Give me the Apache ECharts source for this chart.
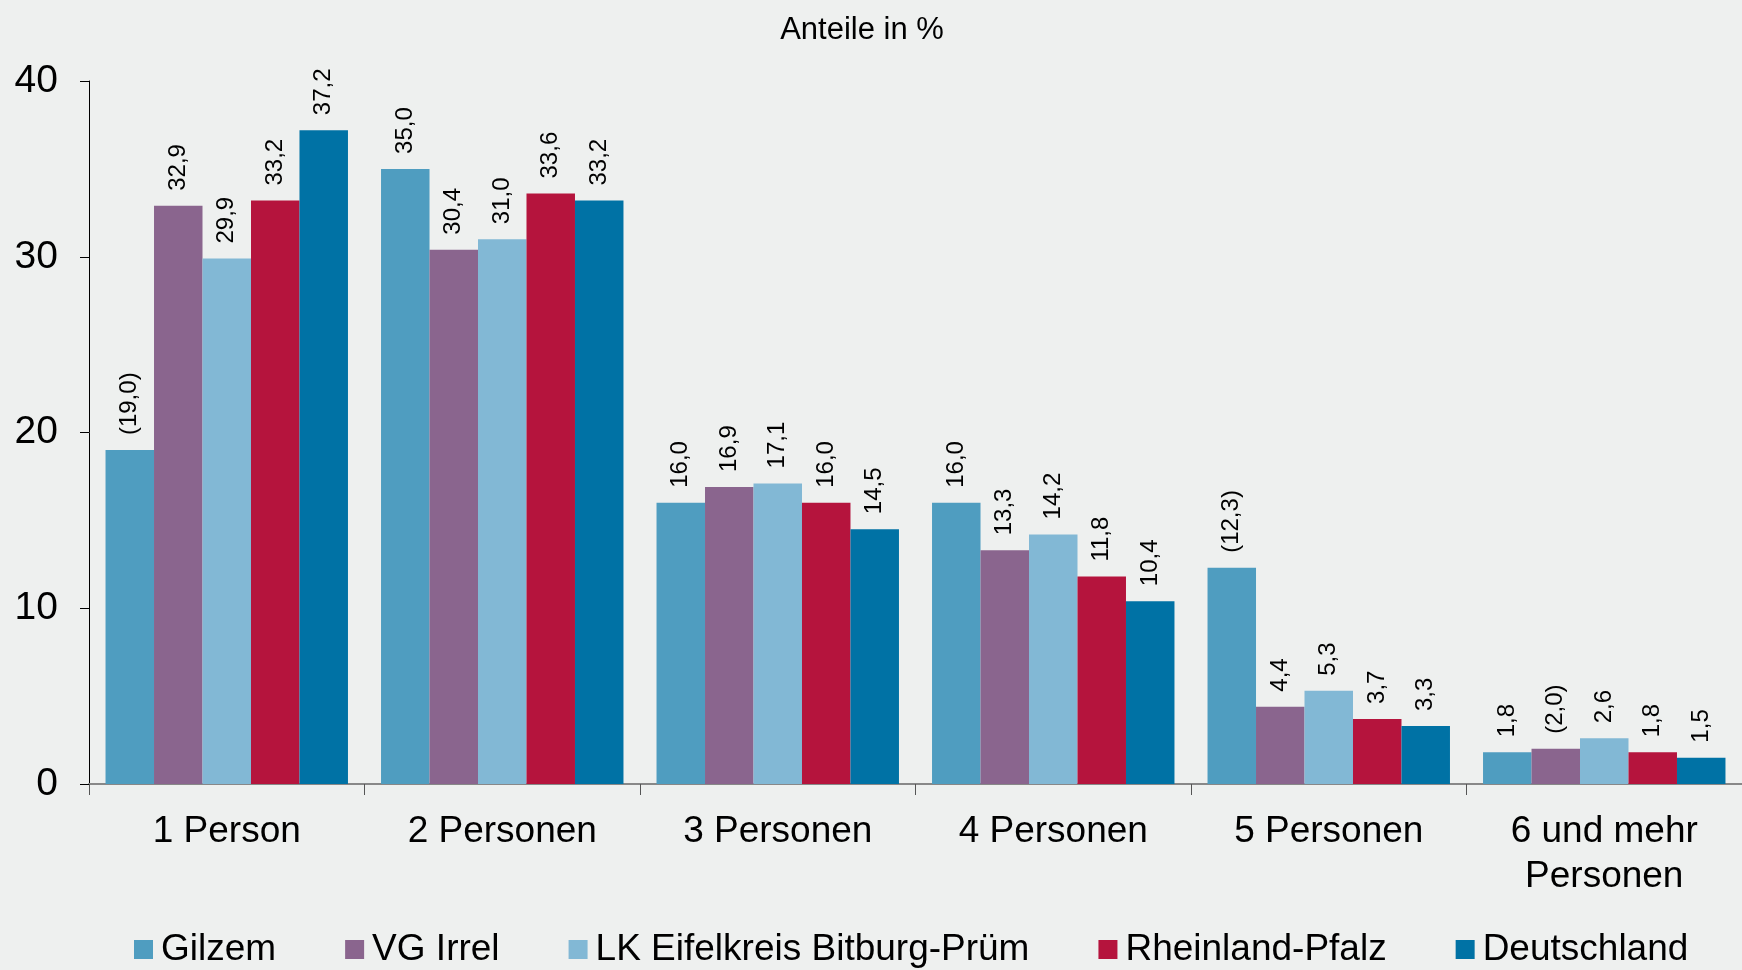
<!DOCTYPE html>
<html><head><meta charset="utf-8">
<script src="https://cdn.jsdelivr.net/npm/echarts@6/dist/echarts.min.js"></script>
<style>html,body{margin:0;padding:0;background:#eef0ef}#c{width:1742px;height:970px}</style>
</head><body><div id="c"></div>
<script>
const categories = ['1 Person', '2 Personen', '3 Personen', '4 Personen', '5 Personen', '6 und mehr\nPersonen'];
const seriesNames = ['Gilzem', 'VG Irrel', 'LK Eifelkreis Bitburg-Prüm', 'Rheinland-Pfalz', 'Deutschland'];
const gilzem = [19.0, 35.0, 16.0, 16.0, 12.3, 1.8];
const vgIrrel = [32.9, 30.4, 16.9, 13.3, 4.4, 2.0];
const lkEifel = [29.9, 31.0, 17.1, 14.2, 5.3, 2.6];
const rlp = [33.2, 33.6, 16.0, 11.8, 3.7, 1.8];
const deutschland = [37.2, 33.2, 14.5, 10.4, 3.3, 1.5];
// values shown in parentheses (small case numbers)
const gilzemParen = [true, false, false, false, true, false];
const vgIrrelParen = [false, false, false, false, false, true];
const yTicks = [0, 10, 20, 30, 40];
const colors = ['#4f9dc0', '#8a658e', '#82b8d5', '#b5143d', '#0072a5'];

const allValues = [gilzem, vgIrrel, lkEifel, rlp, deutschland];
const parens = [gilzemParen, vgIrrelParen, null, null, null];
const fmt = v => v.toFixed(1).replace('.', ',');

const chart = echarts.init(document.getElementById('c'));
chart.setOption({
  backgroundColor: '#eef0ef',
  textStyle: {fontFamily: 'Liberation Sans'},
  title: {text: 'Anteile in %', left: 857, top: 10, textAlign: 'center',
    textStyle: {fontFamily: 'Liberation Sans', fontSize: 31, fontWeight: 'normal', color: '#000'}},
  grid: {left: 89, right: -8, top: 81, bottom: 186, containLabel: false},
  legend: {
    bottom: -3, left: 129, itemWidth: 19, itemHeight: 19, itemGap: 69,
    icon: 'rect',
    textStyle: {fontFamily: 'Liberation Sans', fontSize: 37, color: '#000', padding: [0, 0, 0, 3]},
    data: seriesNames
  },
  xAxis: {
    type: 'category', data: categories,
    axisLine: {lineStyle: {color: '#888', width: 2}},
    axisTick: {show: true, length: 11, lineStyle: {color: '#555', width: 1}},
    axisLabel: {fontFamily: 'Liberation Sans', fontSize: 37, color: '#000', margin: 25, lineHeight: 45}
  },
  yAxis: {
    type: 'value', min: yTicks[0], max: yTicks[yTicks.length - 1], interval: 10,
    axisLine: {show: true, lineStyle: {color: '#000', width: 1}},
    axisTick: {show: true, length: 9, lineStyle: {color: '#000'}},
    splitLine: {show: false},
    axisLabel: {fontFamily: 'Liberation Sans', fontSize: 39, color: '#000', margin: 31}
  },
  series: allValues.map((vals, i) => ({
    name: seriesNames[i], type: 'bar', data: vals,
    barGap: '0%', barCategoryGap: '12%',
    itemStyle: {color: colors[i]},
    label: {
      show: true, position: 'top', rotate: 90, distance: 15,
      align: 'left', verticalAlign: 'middle',
      fontFamily: 'Liberation Sans', fontSize: 24, color: '#000',
      formatter: p => {
        const s = fmt(p.value);
        return parens[i] && parens[i][p.dataIndex] ? '(' + s + ')' : s;
      }
    }
  }))
});
</script></body></html>
